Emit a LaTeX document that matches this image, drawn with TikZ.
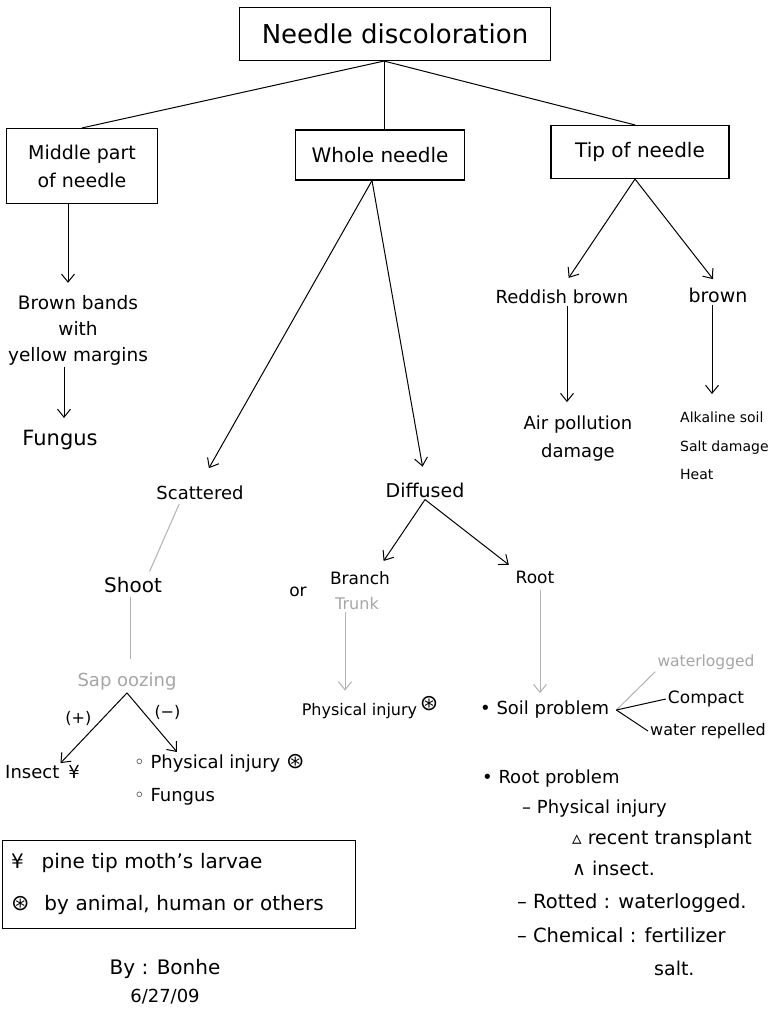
\documentclass[tikz,border=0pt]{standalone}
\usepackage{fontspec}
\setmainfont{DejaVu Sans}
\usetikzlibrary{arrows.meta,calc}
\newcommand\bigast{{\fontsize{22}{22}\selectfont ⊛}}
\tikzset{
  box/.style={draw, line width=1.1, inner sep=4, align=center},
  lbl/.style={inner sep=2, align=center},
  glbl/.style={lbl, text=gray!70},
  arr/.style={-{Straight Barb[length=8,width=13]}, line width=1},
  garr/.style={arr, draw=gray!60},
  ln/.style={line width=1},
  gln/.style={ln, draw=gray!60},
  f15/.style={font=\fontsize{15.5}{28.5}\selectfont},
  f16/.style={font=\fontsize{16}{26}\selectfont},
  f17/.style={font=\fontsize{17}{27}\selectfont},
  f18/.style={font=\fontsize{18}{28}\selectfont},
  f19/.style={font=\fontsize{19}{28}\selectfont},
  f20/.style={font=\fontsize{20}{28}\selectfont},
}
\begin{document}
\begin{tikzpicture}[x=1pt,y=-1pt]
\fill[white] (0,0) rectangle (778,1023);
\useasboundingbox (0,0) rectangle (778,1023);

% boxes
\node[box, minimum width=311, minimum height=53, font=\fontsize{26}{30}\selectfont] (top) at (395,34) {Needle discoloration};
\node[box, minimum width=151, minimum height=75, f19] (mid) at (82,166) {Middle part\\of needle};
\node[box, minimum width=169, minimum height=50, f20] (whole) at (380,155) {Whole needle};
\node[box, minimum width=178, minimum height=53, f20] (tip) at (640,152) {Tip of needle};

\draw[ln] ([xshift=-11]top.south) -- (mid.north);
\draw[ln] ([xshift=-11]top.south) -- ([xshift=4]whole.north);
\draw[ln] ([xshift=-11]top.south) -- ([xshift=-5]tip.north);

% middle branch
\node[lbl, font=\fontsize{18.5}{26}\selectfont] (bands) at (78,330) {Brown bands\\with\\yellow margins};
\node[lbl, font=\fontsize{21}{26}\selectfont] (fungus) at (60,440) {Fungus};
\draw[arr, shorten >=10] ([xshift=-14]mid.south) -- ([xshift=-14]mid.south |- bands.north);
\draw[arr, shorten >=10] ([xshift=-14]bands.south) -- ([xshift=-14]bands.south |- fungus.north);

% whole needle branch
\node[lbl, f18] (scat) at (200,493) {Scattered};
\node[lbl, f19] (diff) at (425,490) {Diffused};
\draw[arr, shorten >=18] ([xshift=-8]whole.south) -- (scat.north);
\draw[arr, shorten >=14] ([xshift=-8]whole.south) -- (diff.north);

\node[lbl, f20] (shoot) at (133,585) {Shoot};
\draw[gln, shorten <=2, shorten >=4] ([xshift=-20]scat.south) -- ([xshift=15]shoot.north);
\node[glbl, f18] (sap) at (127,682) {Sap oozing};
\draw[gln, shorten <=2, shorten >=12] ([xshift=-3]shoot.south) -- ([xshift=-3]shoot.south |- sap.north);

\node[lbl, f18, anchor=west] (insect) at (3,772) {Insect\enspace ¥};
\node[lbl, anchor=north west, align=left, font=\fontsize{18}{33}\selectfont] (phys1) at (132,752) {◦ Physical injury \bigast\\◦ Fungus};
\draw[arr] (sap.south) -- node[lbl, f16, above left] (plus) {(+)} ([xshift=18]insect.north);
\draw[arr] (sap.south) -- node[lbl, f16, above right] (minus) {(−)} ([xshift=45]phys1.north west);

\node[lbl, f17] (branch) at (360,578) {Branch};
\node[glbl, f16] (trunk) at (357,604) {Trunk};
\node[lbl, f17] (or) at (298,592) {or};
\node[lbl, f17] (root) at (535,577) {Root};
\draw[arr, shorten >=10] (diff.south) -- ([xshift=18]branch.north);
\draw[arr, shorten >=6] (diff.south) -- (root.north west);

\node[lbl, f16] (phys2) at (370,708) {Physical injury\,\raisebox{5pt}{\bigast}};
\draw[garr, shorten >=4] ([xshift=-12]trunk.south) -- ([xshift=-12]trunk.south |- phys2.north);

\node[lbl, f18, anchor=west] (soil) at (478,710) {• Soil problem};
\draw[garr, shorten <=4, shorten >=6] ([xshift=5]root.south) -- ([xshift=5]root.south |- soil.north);

\node[glbl, f15] (wlog) at (706,662) {waterlogged};
\node[lbl, f17] (compact) at (706,699) {Compact};
\node[lbl, f16] (repel) at (708,731) {water repelled};
\draw[gln] ([xshift=5]soil.east) -- (wlog.south west);
\draw[ln] ([xshift=5]soil.east) -- (compact.west);
\draw[ln] ([xshift=5]soil.east) -- (repel.west);

\node[lbl, f18, anchor=west] (rp) at (480,779) {• Root problem};
\node[lbl, f18, anchor=west] (rp1) at (520,809) {– Physical injury};
\node[lbl, f19, anchor=west] (rp1a) at (570,839) {▵ recent transplant};
\node[lbl, f19, anchor=west] (rp1b) at (570,868) {∧ insect.};
\node[lbl, font=\fontsize{19.5}{28}\selectfont, anchor=west] (rp2) at (515,903) {– Rotted : waterlogged.};
\node[lbl, font=\fontsize{19.5}{28}\selectfont, anchor=west] (rp3) at (515,935) {– Chemical : fertilizer};
\node[lbl, f19, anchor=west] (rp3b) at (652,968) {salt.};

% tip branch
\node[lbl, f18] (red) at (562,297) {Reddish brown};
\node[lbl, f19] (brown) at (718,295) {brown};
\draw[arr, shorten >=12] ([xshift=-5]tip.south) -- (red.north);
\draw[arr, shorten >=8] ([xshift=-5]tip.south) -- (brown.north);

\node[lbl, font=\fontsize{18}{28}\selectfont] (air) at (578,439) {Air pollution\\damage};
\node[lbl, font=\fontsize{14}{28.5}\selectfont, anchor=north west, align=left] (alk) at (678,410) {Alkaline soil\\Salt damage\\Heat};
\draw[arr, shorten >=12] ([xshift=5]red.south) -- ([xshift=5]red.south |- air.north);
\draw[arr, shorten >=16] ([xshift=-6]brown.south) -- ([xshift=-6]brown.south |- alk.north);

% legend
\node[draw, line width=1, minimum width=353, minimum height=88, text width=335, align=left, inner sep=0,
      font=\fontsize{20}{42}\selectfont] (legend) at (178.5,884)
      {¥\hspace{18pt}pine tip moth’s larvae\\\bigast\hspace{15pt}by animal, human or others};

\node[lbl, f20] (by) at (165,969) {By : Bonhe};
\node[lbl, f18] (date) at (165,997) {6/27/09};
\end{tikzpicture}
\end{document}
